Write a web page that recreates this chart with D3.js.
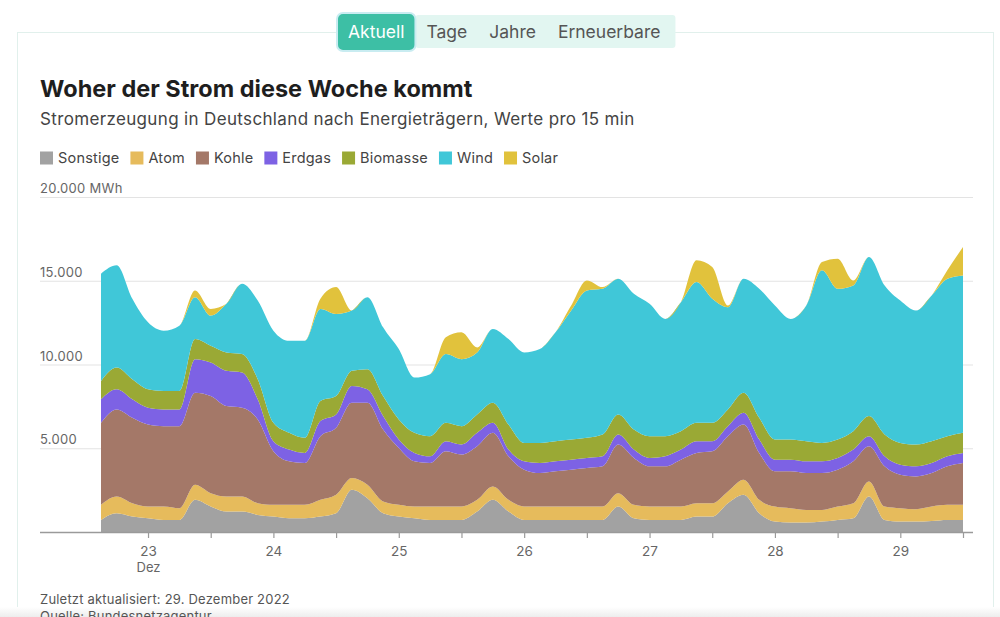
<!DOCTYPE html>
<html>
<head>
<meta charset="utf-8">
<script src="https://cdn.jsdelivr.net/npm/d3@7"></script>
<style>
  body { margin: 0; background: #fff; font-family: Inter, "Noto Sans", sans-serif; }
  svg { display: block; }
</style>
</head>
<body>
<svg id="chart" width="1000" height="617"></svg>
<script>
// ---- data (MWh per 15 min, read every 3 h from 22 Dec 15:00 to 29 Dec 12:00) ----
var tabs = ['Aktuell', 'Tage', 'Jahre', 'Erneuerbare'];
var keys = ['Sonstige', 'Atom', 'Kohle', 'Erdgas', 'Biomasse', 'Wind', 'Solar'];
var colors = ['#a2a2a2', '#e6bb5c', '#a47868', '#7d62e4', '#9aa935', '#40c7d8', '#e1c23c'];

var sonstige = [720,1120,920,820,720,720,1920,1520,1220,1220,1020,920,820,820,920,1120,2520,2020,1120,920,820,720,720,720,1220,1920,1220,720,720,720,720,720,720,1520,820,720,720,720,920,920,1720,2220,1120,620,560,560,620,720,820,2120,720,620,620,660,720,720];
var atom     = [900,1000,800,700,800,700,900,800,900,900,700,700,800,800,1000,1100,700,800,700,700,700,800,800,800,700,800,700,800,800,800,800,800,800,800,800,800,800,800,800,800,700,900,800,900,860,760,700,800,900,900,800,800,740,860,900,900];
var kohle    = [4900,5200,5100,4900,4800,4900,5500,5800,5400,5300,5000,3200,2600,2500,3800,4000,4500,4900,4300,3400,2700,2600,3300,3100,3200,3200,2600,2200,2000,2100,2200,2300,2400,2900,2800,2400,2400,2800,3000,3100,3300,3300,2800,2100,2200,2200,2200,2200,2500,2100,2400,2000,1960,2000,2300,2500];
var erdgas   = [1400,1200,1100,1000,1000,1000,2000,2000,2100,2100,1200,600,700,600,900,800,1000,800,800,500,500,400,600,600,800,600,400,500,600,600,600,600,600,600,500,500,600,600,700,600,600,700,800,700,700,700,700,700,700,600,600,600,600,600,600,600];
var biomasse = [1100,1300,1200,1100,1100,1100,1200,1000,1100,1100,1200,1100,1000,900,1200,1100,900,1200,1200,1200,1200,1200,1100,1100,1100,1200,1500,1100,1200,1200,1200,1200,1300,1200,1200,1300,1200,1100,1100,1100,1000,1200,1300,1200,1200,1200,1100,1100,1100,1200,1300,1300,1300,1300,1200,1200];
var wind     = [6400,6100,4800,4000,3600,3900,2500,1800,2900,4200,4700,5500,5500,5800,5500,4900,3600,4300,4100,4200,3300,3700,4100,4000,3700,4400,5100,5400,5600,6500,7700,8800,8700,8100,8100,7900,7000,7700,8400,7400,6100,6800,7700,8000,7200,8100,10300,9000,8700,9500,8900,8500,8000,8700,9400,9400];
var solar    = [0,0,0,0,0,0,400,400,0,0,0,0,0,0,600,1600,0,0,0,0,0,0,1000,1600,300,0,0,0,0,0,300,600,100,0,0,0,0,0,1300,1900,100,0,0,0,0,0,500,1800,300,0,0,0,0,0,500,1700];

var yTicks = [5000, 10000, 15000, 20000];
var yTickLabels = ['5.000', '10.000', '15.000', '20.000 MWh'];
var startTime = new Date(2022, 11, 22, 15);
var endTime = new Date(2022, 11, 29, 12);

var title = 'Woher der Strom diese Woche kommt';
var subtitle = 'Stromerzeugung in Deutschland nach Energieträgern, Werte pro 15 min';
var updated = 'Zuletzt aktualisiert: 29. Dezember 2022';
var source = 'Quelle: Bundesnetzagentur';

// ---- layout ----
var svg = d3.select('#chart');
var plotL = 40, plotR = 973, base = 532, top20 = 197;

var series = [sonstige, atom, kohle, erdgas, biomasse, wind, solar];
var rows = sonstige.map(function(v, i){
    var r = { time: d3.timeHour.offset(startTime, 3 * i) };
    keys.forEach(function(k, j){ r[k] = series[j][i]; });
    return r;
});

var x = d3.scaleTime().domain([startTime, endTime]).range([101, 963]);
var y = d3.scaleLinear().domain([0, 20000]).range([base, top20]);
var color = d3.scaleOrdinal().domain(keys).range(colors);

// card + bottom shade
var grad = svg.append('defs').append('linearGradient')
    .attr('id', 'shade').attr('x1', 0).attr('y1', 0).attr('x2', 0).attr('y2', 1);
grad.append('stop').attr('offset', 0).attr('stop-color', '#fff');
grad.append('stop').attr('offset', 1).attr('stop-color', '#ededed');
svg.append('rect').attr('x', 17.5).attr('y', 32.5).attr('width', 976).attr('height', 600)
    .attr('fill', '#fff').attr('stroke', '#e1f0ec');
svg.append('rect').attr('x', 0).attr('y', 607).attr('width', 1000).attr('height', 10).attr('fill', 'url(#shade)');

// tabs
var tabG = svg.append('g').attr('font-size', 17.5);
var tabX = 337, pad = 11, tabPos = [];
tabs.forEach(function(t, i){
    var tx = tabG.append('text').attr('x', tabX + pad).attr('y', 38).text(t);
    var w = tx.node().getComputedTextLength() + 2 * pad;
    tabPos.push({ x: tabX, w: w, node: tx });
    tabX += w;
});
tabG.insert('rect', 'text').attr('x', tabPos[1].x).attr('y', 15).attr('width', tabX - tabPos[1].x + 4)
    .attr('height', 33).attr('rx', 3).attr('fill', '#e2f6f1');
tabG.insert('rect', 'text').attr('x', tabPos[0].x).attr('y', 13).attr('width', tabPos[0].w)
    .attr('height', 38).attr('rx', 6).attr('fill', '#3dbfa5').attr('stroke', '#c9ecf1').attr('stroke-width', 2);
tabPos.forEach(function(p, i){ p.node.attr('fill', i === 0 ? '#fff' : '#555'); });

// titles
svg.append('text').attr('x', 40).attr('y', 97).attr('font-size', 23.5).attr('font-weight', 700)
    .attr('fill', '#1e1e1e').text(title);
svg.append('text').attr('x', 40).attr('y', 125).attr('font-size', 17).attr('letter-spacing', 0.35)
    .attr('fill', '#444').text(subtitle);

// legend
var lx = 40;
keys.forEach(function(k){
    svg.append('rect').attr('x', lx).attr('y', 151.5).attr('width', 13).attr('height', 13).attr('fill', color(k));
    var t = svg.append('text').attr('x', lx + 18).attr('y', 163).attr('font-size', 14.5)
        .attr('letter-spacing', 0.2).attr('fill', '#444').text(k);
    lx += 18 + t.node().getComputedTextLength() + 11;
});

// grid + y labels
svg.append('g').selectAll('line').data(yTicks).enter().append('line')
    .attr('x1', plotL).attr('x2', plotR)
    .attr('y1', function(d){ return y(d) + 0.5; }).attr('y2', function(d){ return y(d) + 0.5; })
    .attr('stroke', '#e3e3e3');
svg.append('g').selectAll('text').data(yTicks).enter().append('text')
    .attr('x', plotL).attr('y', function(d){ return y(d) - 4; })
    .attr('font-size', 13).attr('letter-spacing', 0.3).attr('fill', '#666')
    .text(function(d, i){ return yTickLabels[i]; });

// stacked areas
var stack = d3.stack().keys(keys);
var area = d3.area()
    .x(function(d){ return x(d.data.time); })
    .y0(function(d){ return y(d[0]); })
    .y1(function(d){ return y(d[1]); })
    .curve(d3.curveMonotoneX);

svg.append('g').selectAll('path').data(stack(rows)).enter().append('path')
    .attr('d', area)
    .attr('fill', function(d){ return color(d.key); });

// x axis
svg.append('line').attr('x1', plotL).attr('x2', plotR).attr('y1', base + 0.5).attr('y2', base + 0.5)
    .attr('stroke', '#9a9a9a').attr('stroke-width', 1.5);

var tickTimes = d3.timeHour.every(12).range(new Date(2022, 11, 23), d3.timeHour.offset(endTime, 1));
var xAxis = d3.axisBottom(x).tickValues(tickTimes).tickSize(6).tickPadding(8)
    .tickFormat(function(d){ return d.getHours() === 0 ? d.getDate() : ''; });

var gx = svg.append('g').attr('transform', 'translate(0,' + base + ')').call(xAxis);
gx.select('.domain').remove();
gx.selectAll('line').attr('stroke', '#9a9a9a').attr('stroke-width', 1.2);
gx.selectAll('text').attr('font-size', 13.5).attr('fill', '#666').attr('font-family', 'Inter, sans-serif');
gx.selectAll('text').filter(function(d){ return d.getDate() === 23 && d.getHours() === 0; })
    .append('tspan').attr('x', 0).attr('dy', '1.25em').attr('font-size', 13).text('Dez');

// footer
svg.append('text').attr('x', 40).attr('y', 604).attr('font-size', 13).attr('letter-spacing', 0.2)
    .attr('fill', '#555').text(updated);
svg.append('text').attr('x', 40).attr('y', 621).attr('font-size', 13).attr('letter-spacing', 0.2)
    .attr('fill', '#555').text(source);
</script>
</body>
</html>
